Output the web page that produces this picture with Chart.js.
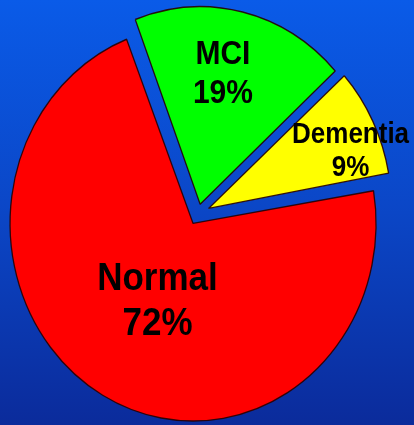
<!DOCTYPE html>
<html>
<head>
<meta charset="utf-8">
<script src="https://cdn.jsdelivr.net/npm/chart.js@4/dist/chart.umd.min.js"></script>
<style>
    html, body { margin: 0; padding: 0; }
    #wrap {
        width: 414px;
        height: 425px;
        background: linear-gradient(to bottom, #0a5be8 0%, #0b46c6 50%, #0b2b9b 100%);
    }
    canvas { display: block; }
</style>
</head>
<body>
<div id="wrap"><canvas id="pieChart" width="414" height="425"></canvas></div>
<script>
// data
var labels = ["Normal", "MCI", "Dementia"];
var values = [72, 19, 9];

// look of each slice / label
var sliceColors = ["#ff0000", "#00ff00", "#ffff00"];
var sliceOffsets = [40, 37, 47];
var labelSizes = [35, 30, 26];
var labelDist = [0.481, 0.733, 0.896];   // fraction of radius from centre
var labelTurn = [-2.2, -2.7, 4.7];       // degrees off the slice middle

var pieRadius = 183;
var stretchY = 1.08; // the original picture is a little taller than wide

var stretchPlugin = {
    id: "stretch",
    beforeDatasetsDraw: function (chart) {
        var ctx = chart.ctx;
        // chart.js grows an exploded slice's radius, keep them all the same size
        chart.getDatasetMeta(0).data.forEach(function (arc) {
            var fix = 1 - Math.sin(Math.min(Math.PI, arc.circumference || 0));
            arc.outerRadius = pieRadius - (arc.options.offset || 0) / 4 * fix;
        });
        var cy = (chart.chartArea.top + chart.chartArea.bottom) / 2;
        ctx.save();
        ctx.translate(0, cy);
        ctx.scale(1, stretchY);
        ctx.translate(0, -cy);
    },
    afterDatasetsDraw: function (chart) {
        var ctx = chart.ctx;
        var meta = chart.getDatasetMeta(0);
        meta.data.forEach(function (arc, i) {
            var mid = (arc.startAngle + arc.endAngle) / 2 + labelTurn[i] * Math.PI / 180;
            var d = pieRadius * labelDist[i];
            var x = arc.x + Math.cos(mid) * d;
            var y = arc.y + Math.sin(mid) * d;
            var size = labelSizes[i];
            var gap = size * 1.17;
            var cap = size * 0.716;
            ctx.save();
            ctx.translate(x, y);
            ctx.scale(1, 1.02);
            ctx.font = "bold " + size + "px 'Liberation Sans', Arial, sans-serif";
            ctx.fillStyle = "#000";
            ctx.textAlign = "center";
            ctx.textBaseline = "alphabetic";
            var b1 = -gap / 2 + cap / 2;
            ctx.fillText(labels[i], 0, b1);
            ctx.fillText(values[i] + "%", 0, b1 + gap);
            ctx.restore();
        });
        ctx.restore();
    }
};

var pieData = {
    labels: labels,
    datasets: [
        {
            data: values,
            backgroundColor: sliceColors,
            borderColor: "rgba(40, 0, 0, 0.9)",
            borderWidth: 1.3,
            offset: sliceOffsets
        }
    ]
};

var pieOptions = {
    responsive: false,
    animation: false,
    rotation: 80,
    radius: pieRadius,
    layout: { padding: { left: 0, right: 18, top: 3, bottom: 0 } },
    plugins: {
        legend: { display: false },
        tooltip: { enabled: false }
    }
};

var ctx = document.getElementById("pieChart").getContext("2d");
new Chart(ctx, { type: "pie", data: pieData, options: pieOptions, plugins: [stretchPlugin] });
</script>
</body>
</html>
